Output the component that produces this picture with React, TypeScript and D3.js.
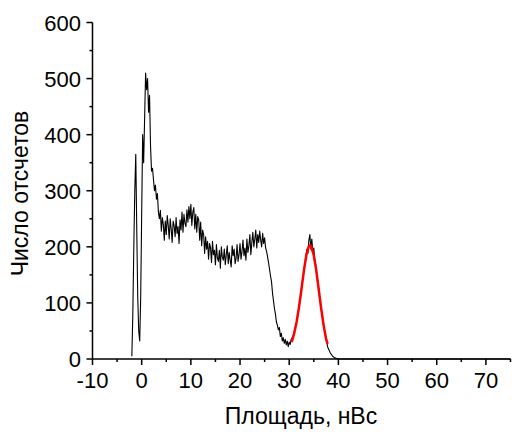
import React from "react";
import * as d3 from "d3";

// Histogram (black) sampled every 0.2 nVs starting at -2.0
const histStart = -2.0;
const histStep = 0.2;
const histCounts = [
  5, 80, 200, 300, 365, 230, 110, 50, 32, 110,
  260, 400, 350, 430, 510, 480, 500, 440, 470, 380,
  335, 340, 320, 300, 310, 285, 295, 262, 250, 265,
  228, 252, 240, 212, 246, 222, 256, 238, 214, 250,
  232, 208, 246, 238, 218, 252, 224, 236, 206, 248,
  230, 262, 226, 258, 242, 236, 266, 244, 272, 250,
  276, 238, 262, 270, 232, 258, 226, 254, 248, 212,
  244, 202, 230, 222, 188, 218, 196, 210, 178, 206,
  198, 172, 210, 186, 194, 168, 204, 180, 174, 194,
  162, 200, 182, 176, 196, 168, 186, 202, 170, 190,
  176, 164, 202, 184, 196, 170, 180, 204, 174, 186,
  206, 178, 192, 212, 184, 198, 176, 214, 190, 202,
  222, 186, 208, 226, 200, 214, 230, 198, 222, 208,
  228, 212, 200, 224, 206, 216, 198, 192, 182, 172,
  160, 148, 138, 118, 104, 90, 80, 66, 60, 52,
  56, 40, 46, 32, 38, 28, 35, 25, 32, 22,
  30, 26, 35, 38, 42, 48, 56, 60, 72, 80,
  94, 102, 116, 132, 146, 158, 172, 182, 196, 188,
  212, 222, 196, 214, 190, 198, 176, 166, 150, 140,
  126, 110, 98, 84, 70, 60, 50, 40, 32, 22,
  18, 14, 10, 8, 5, 4, 2, 2, 1, 1,
  0,
];
const tailX = [50, 75];
const tailY = [0, 0];

// Gaussian fit (red)
const fitX = [30.5, 31.0, 31.5, 32.0, 32.5, 33.0, 33.5, 34.0, 34.25, 34.5, 35.0, 35.5, 36.0, 36.5, 37.0, 37.5, 37.8];
const fitY = [30, 45, 66, 93, 125, 158, 186, 201, 203, 200, 185, 158, 124, 90, 60, 36, 27];

const xMajor = [-10, 0, 10, 20, 30, 40, 50, 60, 70];
const xMinor = [-5, 5, 15, 25, 35, 45, 55, 65, 75];
const yMajor = [0, 100, 200, 300, 400, 500, 600];
const yMinor = [50, 150, 250, 350, 450, 550];

const xTitle = "Площадь, нВс";
const yTitle = "Число отсчетов";

export default function App() {
  const W = 512, H = 432;
  const x = d3.scaleLinear().domain([-10, 75]).range([92.5, 510.5]);
  const y = d3.scaleLinear().domain([0, 600]).range([359, 22.5]);

  const histPts: [number, number][] = histCounts.map((v, i) => [histStart + histStep * i, v]);
  tailX.forEach((tx, i) => histPts.push([tx, tailY[i]]));
  const fitPts: [number, number][] = fitX.map((fx, i) => [fx, fitY[i]]);

  const line = d3.line<[number, number]>().x(d => x(d[0])).y(d => y(d[1]));
  const font = "'Liberation Sans', Arial, sans-serif";
  const x0 = x(-10);
  const y0 = y(0);

  return (
    <svg width={W} height={H} style={{ position: "absolute", left: 0, top: 0, background: "#fff" }}>
      <path d={line(histPts) || ""} fill="none" stroke="#000" strokeWidth={1.1} strokeLinejoin="round" />
      <path d={line(fitPts) || ""} fill="none" stroke="#ff0000" strokeWidth={2.5} strokeLinejoin="round" />
      {/* axes */}
      <line x1={x0} x2={x0} y1={y(600)} y2={y0} stroke="#000" strokeWidth={1.5} />
      <line x1={x0} x2={x(75)} y1={y0} y2={y0} stroke="#000" strokeWidth={1.5} />
      {xMajor.map(t => (
        <g key={"xM" + t}>
          <line x1={x(t)} x2={x(t)} y1={y0} y2={y0 + 6} stroke="#000" strokeWidth={1.5} />
          <text x={x(t)} y={388} textAnchor="middle" fontFamily={font} fontSize={22} fill="#000">{t}</text>
        </g>
      ))}
      {xMinor.map(t => (
        <line key={"xm" + t} x1={x(t)} x2={x(t)} y1={y0} y2={y0 + 3} stroke="#000" strokeWidth={1.5} />
      ))}
      {yMajor.map(t => (
        <g key={"yM" + t}>
          <line x1={x0 - 6} x2={x0} y1={y(t)} y2={y(t)} stroke="#000" strokeWidth={1.5} />
          <text x={81} y={y(t) + 8} textAnchor="end" fontFamily={font} fontSize={22} fill="#000">{t}</text>
        </g>
      ))}
      {yMinor.map(t => (
        <line key={"ym" + t} x1={x0 - 3} x2={x0} y1={y(t)} y2={y(t)} stroke="#000" strokeWidth={1.5} />
      ))}
      <text x={301} y={424} textAnchor="middle" fontFamily={font} fontSize={23} fill="#000">{xTitle}</text>
      <text transform={`translate(28,193.5) rotate(-90)`} textAnchor="middle" fontFamily={font} fontSize={23} fill="#000">{yTitle}</text>
    </svg>
  );
}
